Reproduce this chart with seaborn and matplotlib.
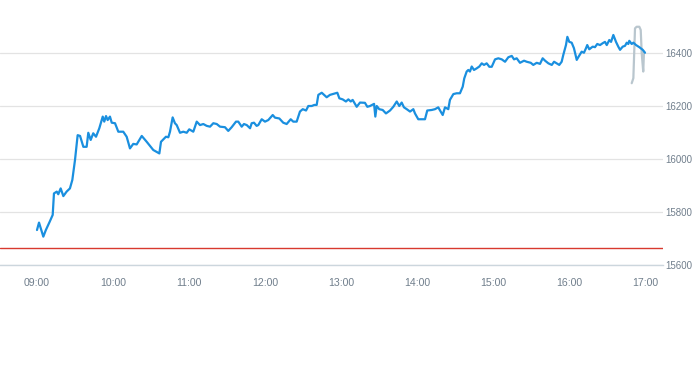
import matplotlib
matplotlib.use("Agg")
import matplotlib.pyplot as plt
import seaborn as sns
import pandas as pd

# minutes after 09:00
blue_minutes = [0, 1.6, 5, 7, 10, 12.4, 13.4, 15.6, 16.8, 18.7, 20.8, 23.4, 26, 27.9, 30, 32.1, 34, 36.6,
                39.2, 40.5, 42.4, 44.4, 46.6, 49.2, 51.9, 53.1, 54.5, 55.8, 57.6, 59, 61.6, 64.2, 68.1,
                70.8, 73.4, 76, 78.7, 82.7, 86.6, 91.8, 96.6, 97.9, 99.7, 101.8, 103.7, 105, 107.1,
                108.9, 110.3, 112.9, 115.5, 118.2, 120.2, 123.4, 126.1, 128.7, 131.3, 134, 136.6,
                139.2, 141.9, 144.5, 148.4, 151, 153.7, 157.1, 158.9, 161.6, 163.4, 165.6, 168.2,
                169.5, 171.3, 173.4, 174.7, 177.4, 180, 182.6, 186.1, 187.9, 191.3, 194.4, 197.1,
                200.3, 202.3, 205, 207.6, 209.8, 212.4, 214.2, 216.9, 218.9, 220.8, 222.1, 224.8,
                226.6, 228.7, 231.3, 233.4, 235.3, 237.1, 238.7, 241.3, 243.9, 245.8, 247.7, 249.2,
                252.4, 255, 258.9, 260.8, 262.9, 266.1, 267.1, 268.2, 270.2, 272.9, 275.5, 278.7,
                281.3, 284, 286, 287.9, 289.7, 291.9, 294.5, 297.1, 298.4, 301, 306.3, 308.1, 311.6,
                314.2, 316.8, 318.2, 320.3, 322.1, 324.7, 326, 328.7, 331.3, 333.9, 336.1, 337.3,
                339.2, 340.5, 341.8, 343.2, 345, 347.1, 349.2, 351.1, 352.9, 355, 357.1, 359, 361.6,
                364.2, 366.9, 369.5, 372.1, 374.8, 376.6, 378.7, 381.3, 384.5, 386.6, 389.8, 391.8,
                394.5, 397.1, 399.2, 401.1, 403.7, 406.4, 408.2, 410.3, 412.3, 414.2, 415.5, 417.6,
                418.7, 420.2, 422.1, 423.9, 426.1, 427.3, 430, 431.8, 433.4, 434.4, 436, 438.7,
                440.5, 442.3, 444.5, 446.6, 448.4, 449.8, 451.8, 453.2, 455, 457.1, 458.9, 460.3,
                462.4, 464.2, 465.6, 466.8, 467.6, 469.5, 470.8, 472.9, 475.5, 478.2, 480]
blue_values = [15732, 15760, 15707, 15732, 15763, 15789, 15870, 15877, 15867, 15889, 15860, 15877, 15889,
               15921, 15996, 16090, 16087, 16046, 16046, 16099, 16072, 16097, 16084, 16116, 16160, 16141,
               16162, 16147, 16160, 16137, 16135, 16103, 16103, 16084, 16040, 16057, 16055, 16087, 16065,
               16034, 16021, 16065, 16074, 16084, 16082, 16103, 16157, 16135, 16128, 16099, 16103, 16099,
               16112, 16103, 16141, 16128, 16132, 16125, 16122, 16135, 16132, 16122, 16120, 16106, 16120,
               16141, 16141, 16122, 16132, 16128, 16116, 16135, 16137, 16125, 16128, 16150, 16141, 16147,
               16166, 16156, 16153, 16137, 16132, 16150, 16141, 16141, 16179, 16188, 16183, 16200, 16200,
               16204, 16204, 16242, 16250, 16242, 16233, 16242, 16245, 16248, 16250, 16229, 16225, 16217,
               16225, 16217, 16223, 16197, 16213, 16212, 16197, 16200, 16208, 16160, 16200, 16188, 16185,
               16172, 16183, 16197, 16217, 16200, 16213, 16195, 16188, 16179, 16188, 16172, 16150, 16150,
               16183, 16185, 16188, 16195, 16183, 16166, 16195, 16188, 16223, 16245, 16248, 16248, 16273,
               16304, 16330, 16336, 16330, 16349, 16336, 16342, 16349, 16361, 16355, 16361, 16348, 16348,
               16376, 16380, 16376, 16367, 16384, 16389, 16376, 16380, 16363, 16371, 16367, 16363, 16355,
               16363, 16359, 16380, 16371, 16361, 16355, 16367, 16361, 16355, 16367, 16393, 16430, 16461,
               16442, 16439, 16418, 16374, 16384, 16405, 16401, 16418, 16430, 16414, 16424, 16422, 16434,
               16430, 16437, 16442, 16430, 16449, 16442, 16468, 16442, 16424, 16412, 16424, 16427, 16439,
               16434, 16446, 16434, 16439, 16430, 16422, 16412, 16401]

grey_minutes = [469.5, 470.8, 472.1, 473.4, 475.5, 476.6, 477.4, 478.6, 479.2]
grey_values = [16286, 16305, 16493, 16499, 16499, 16487, 16399, 16330, 16405]

ref_value = 15664

tick_minutes = [0, 60, 120, 180, 240, 300, 360, 420, 480]
tick_labels = ["09:00", "10:00", "11:00", "12:00", "13:00", "14:00", "15:00", "16:00", "17:00"]
y_ticks = [15600, 15800, 16000, 16200, 16400]

sns.set_style("white")
plt.rcParams['font.family'] = ['Liberation Sans', 'DejaVu Sans']

fig = plt.figure(figsize=(6.93, 3.65), dpi=100)
ax = fig.add_axes([0, 100 / 365, 663 / 693, 265 / 365])

blue_df = pd.DataFrame({"t": blue_minutes, "v": blue_values})
grey_df = pd.DataFrame({"t": grey_minutes, "v": grey_values})

ax.axhline(ref_value, color="#d8392f", linewidth=1.0, zorder=2)
sns.lineplot(data=grey_df, x="t", y="v", ax=ax, color="#b9c6ce", linewidth=1.6, zorder=3)
sns.lineplot(data=blue_df, x="t", y="v", ax=ax, color="#1a8fdf", linewidth=1.6, zorder=4)

ax.set_xlim(-29.2, 494.2)
ax.set_ylim(15600, 16600)
ax.set_xticks(tick_minutes)
ax.set_xticklabels(tick_labels)
ax.set_yticks(y_ticks)
ax.set_yticklabels([str(v) for v in y_ticks])
ax.yaxis.tick_right()
ax.set_xlabel("")
ax.set_ylabel("")

ax.grid(axis="y", color="#e3e3e3", linewidth=0.9)
ax.grid(axis="x", visible=False)
for s in ["top", "left", "right"]:
    ax.spines[s].set_visible(False)
ax.spines["bottom"].set_color("#ccd6dd")
ax.spines["bottom"].set_linewidth(1.0)

ax.tick_params(axis="x", colors="#707e8c", labelsize=7.6, length=4, width=0.8, color="#ccd6dd", pad=5)
ax.tick_params(axis="y", colors="#707e8c", labelsize=7.0, length=0, pad=1.5)

fig.savefig("out.png", dpi=100)
